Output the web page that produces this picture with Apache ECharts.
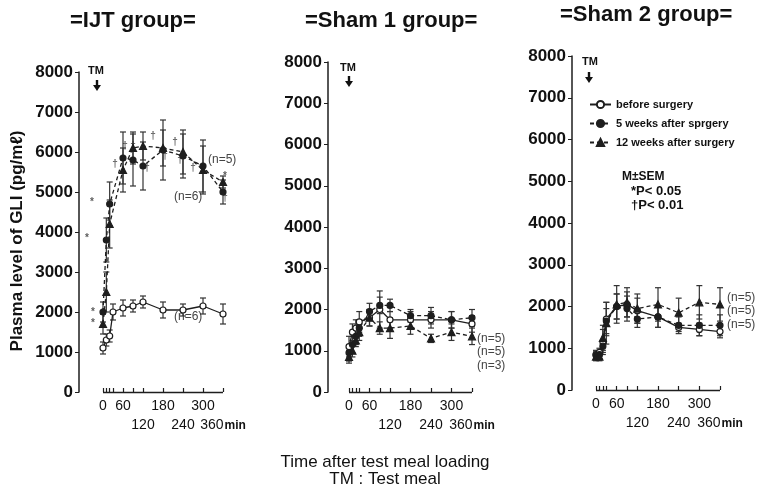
<!DOCTYPE html>
<html>
<head>
<meta charset="utf-8">
<script src="https://cdn.jsdelivr.net/npm/echarts@6/dist/echarts.min.js"></script>
<style>
  html, body { margin: 0; padding: 0; background: #fff; }
  #chart { width: 768px; height: 489px; }
</style>
</head>
<body>
<div id="chart"></div>
<script>
// sampling times (min after test meal)
const times = [0, 10, 20, 30, 60, 90, 120, 180, 240, 300, 360];
const tickTimes = [0, 10, 20, 30, 60, 90, 120, 180, 240, 300, 360];
const labelRow1 = [0, 60, 180, 300];
const labelRow2 = [120, 240, 360];

// IJT group
const ijtBefore    = [1100, 1300, 1400, 2000, 2100, 2150, 2250, 2050, 2050, 2150, 1950];
const ijtBeforeSem = [150, 150, 150, 200, 200, 150, 150, 200, 150, 200, 250];
const ijtWeek5     = [2000, 3800, 4700, null, 5850, 5800, 5650, 6050, 5900, 5650, 5000];
const ijtWeek5Sem  = [250, 550, 550, null, 650, 650, 600, 750, 550, 650, 300];
const ijtWeek12    = [1700, 2500, 4200, null, 5550, 6100, 6150, 6100, 6000, 5550, 5250];
const ijtWeek12Sem = [250, 500, 600, null, 550, 400, 350, 450, 550, 600, 150];

// Sham 1 group
const sham1Before    = [1100, 1450, 1550, 1700, 1800, 2000, 1750, 1750, 1750, 1750, 1650];
const sham1BeforeSem = [250, 200, 200, 250, 200, 450, 200, 200, 200, 200, 200];
const sham1Week5     = [950, 1150, 1350, 1550, 1950, 2100, 2100, 1850, 1850, 1750, 1800];
const sham1Week5Sem  = [200, 200, 200, 200, 200, 200, 150, 150, 200, 200, 200];
const sham1Week12    = [850, 1000, 1250, 1450, 1800, 1550, 1550, 1600, 1300, 1450, 1350];
const sham1Week12Sem = [150, 150, 150, 200, 200, 150, 250, 200, 100, 200, 200];

// Sham 2 group
const sham2Before    = [850, 900, 1150, 1700, 2000, 2050, 1900, 1750, 1500, 1450, 1400];
const sham2BeforeSem = [100, 100, 300, 400, 300, 300, 300, 250, 100, 150, 150];
const sham2Week5     = [830, 850, 1050, 1650, 2000, 1950, 1700, 1750, 1550, 1550, 1550];
const sham2Week5Sem  = [100, 100, 150, 300, 300, 300, 200, 250, 200, 250, 250];
const sham2Week12    = [800, 800, 1250, 1600, 2050, 2100, 1950, 2050, 1850, 2100, 2050];
const sham2Week12Sem = [100, 100, 300, 500, 450, 350, 350, 400, 350, 400, 400];

// significance marks in IJT panel
const sigTimes  = [-33, -48, -30, -30, 36, 66, 90, 132, 150, 186, 216, 231, 270, 366, 366];
const sigValues = [4750, 3850, 2000, 1725, 5700, 6150, 6150, 5600, 6400, 5900, 6250, 5800, 5600, 5400, 4850];
const sigMarks  = ['*', '*', '*', '*', '†', '†', '†', '†', '†', '†', '†', '†', '†', '*', '†'];

const names = ['before surgery', '5 weeks after sprgery', '12 weeks after surgery'];
const ink = '#1e1e1e';

// panel layout: grid starts at the y axis, time axis drawn from 0 to 360 only
const panels = [
  { left: 79, top: 72, height: 320, width: 144, xmin: -72 },
  { left: 328, top: 62, height: 330, width: 144, xmin: -61.5 },
  { left: 572, top: 56, height: 334, width: 148, xmin: -69.7 }
];

const grids = panels.map(p => ({ left: p.left, top: p.top, width: p.width, height: p.height }));

const sans = 'Liberation Sans, Arial, sans-serif';

// two x axes per panel: the main one (ticks + first label row) and a second label row
const xAxes = [];
panels.forEach((p, i) => {
  xAxes.push({
    type: 'value', gridIndex: i, min: p.xmin, max: 360, position: 'bottom',
    axisLine: { show: false },
    axisTick: { show: true, inside: true, length: 4, customValues: tickTimes, lineStyle: { color: ink, width: 1.2 } },
    axisLabel: { customValues: labelRow1, margin: 7, color: '#111', fontFamily: sans, fontSize: 14, showMinLabel: true },
    splitLine: { show: false }
  });
  xAxes.push({
    type: 'value', gridIndex: i, min: p.xmin, max: 360, position: 'bottom', offset: 0,
    axisLine: { show: false }, axisTick: { show: false },
    axisLabel: {
      customValues: labelRow2, margin: 26, color: '#111', fontFamily: sans, fontSize: 14,
      showMaxLabel: true, hideOverlap: false,
      formatter: v => v === 360 ? '360{m|min}' : '' + v,
      rich: { m: { fontSize: 12, fontFamily: sans, fontWeight: 'bold', padding: [2, 0, 0, 1] } }
    },
    splitLine: { show: false }
  });
});

const yAxes = panels.map((p, i) => ({
  type: 'value', gridIndex: i, min: 0, max: 8000, interval: 1000,
  axisLine: { show: true, onZero: false, lineStyle: { color: ink, width: 1.5 } },
  axisTick: { show: true, length: 4, lineStyle: { color: ink } },
  axisLabel: {
    margin: 6, color: '#111', fontWeight: 'bold', fontSize: 17, fontFamily: sans,
    formatter: v => '' + v
  },
  splitLine: { show: false }
}));

function lineSeries(idx, kind, vals) {
  const styles = [
    { symbol: 'circle', size: 6, fill: '#fff', type: 'solid' },
    { symbol: 'circle', size: 6, fill: ink, type: [4, 3] },
    { symbol: 'triangle', size: 7, fill: ink, type: [4, 3] }
  ][kind];
  const s = {
    name: names[kind], type: 'line', xAxisIndex: idx * 2, yAxisIndex: idx,
    data: times.map((t, i) => [t, vals[i]]),
    connectNulls: true, symbol: styles.symbol, symbolSize: styles.size, showAllSymbol: true,
    lineStyle: { color: ink, width: 1.3, type: styles.type },
    itemStyle: { color: styles.fill, borderColor: ink, borderWidth: 1.2 },
    z: 3
  };
  if (kind === 0) {
    // time axis baseline, 0 to 360 min
    s.markLine = {
      silent: true, symbol: ['none', 'none'], label: { show: false },
      lineStyle: { color: ink, width: 1.4, type: 'solid' },
      data: [[{ coord: [0, 0] }, { coord: [360, 0] }]]
    };
  }
  return s;
}

function errSeries(idx, vals, sems) {
  const data = [];
  times.forEach((t, i) => { if (vals[i] != null) data.push([t, vals[i], sems[i]]); });
  return {
    type: 'custom', xAxisIndex: idx * 2, yAxisIndex: idx, data: data, z: 2,
    encode: { x: 0, y: 1 },
    renderItem: function (params, api) {
      const x = api.value(0), y = api.value(1), e = api.value(2);
      const top = api.coord([x, y + e]);
      const bot = api.coord([x, y - e]);
      const st = { stroke: '#333', lineWidth: 1.2 };
      return {
        type: 'group', children: [
          { type: 'line', shape: { x1: top[0], y1: top[1], x2: bot[0], y2: bot[1] }, style: st },
          { type: 'line', shape: { x1: top[0] - 3, y1: top[1], x2: top[0] + 3, y2: top[1] }, style: st },
          { type: 'line', shape: { x1: bot[0] - 3, y1: bot[1], x2: bot[0] + 3, y2: bot[1] }, style: st }
        ]
      };
    }
  };
}

const groups = [
  [ijtBefore, ijtBeforeSem, ijtWeek5, ijtWeek5Sem, ijtWeek12, ijtWeek12Sem],
  [sham1Before, sham1BeforeSem, sham1Week5, sham1Week5Sem, sham1Week12, sham1Week12Sem],
  [sham2Before, sham2BeforeSem, sham2Week5, sham2Week5Sem, sham2Week12, sham2Week12Sem]
];

const series = [];
groups.forEach((g, i) => {
  for (let k = 0; k < 3; k++) {
    series.push(errSeries(i, g[k * 2], g[k * 2 + 1]));
    series.push(lineSeries(i, k, g[k * 2]));
  }
});

series.push({
  type: 'scatter', xAxisIndex: 0, yAxisIndex: 0, symbolSize: 0, clip: false, silent: true,
  data: sigTimes.map((t, i) => ({ value: [t, sigValues[i]], name: sigMarks[i] })),
  label: { show: true, position: 'inside', formatter: '{b}', color: '#333', fontSize: 10, fontWeight: 'bold' }
});

function txt(x, y, text, font, extra) {
  return { type: 'text', x: x, y: y, style: Object.assign({ text: text, font: font, fill: '#111', textVerticalAlign: 'middle' }, extra || {}) };
}
function arrow(x, y) {
  return {
    type: 'group', children: [
      { type: 'rect', shape: { x: x - 1.2, y: y, width: 2.4, height: 6 }, style: { fill: '#111' } },
      { type: 'polygon', shape: { points: [[x - 4, y + 5], [x + 4, y + 5], [x, y + 11]] }, style: { fill: '#111' } }
    ]
  };
}

const nFont = '12px Liberation Sans, sans-serif';
const titleFont = 'bold 22px Liberation Sans, Arial, sans-serif';
const graphics = [
  txt(70, 21, '=IJT group=', titleFont),
  txt(305, 21, '=Sham 1 group=', titleFont),
  txt(560, 15, '=Sham 2 group=', titleFont),
  { type: 'text', x: 17, y: 241, rotation: Math.PI / 2,
    style: { text: 'Plasma level of GLI (pg/mℓ)', font: 'bold 17px Liberation Sans, Arial, sans-serif', fill: '#111', textAlign: 'center', textVerticalAlign: 'middle' } },
  txt(88, 71, 'TM', 'bold 11px Liberation Sans, sans-serif'),
  arrow(97, 80),
  txt(340, 68, 'TM', 'bold 11px Liberation Sans, sans-serif'),
  arrow(349, 76),
  txt(582, 62, 'TM', 'bold 11px Liberation Sans, sans-serif'),
  arrow(589, 72),
  txt(208, 160, '(n=5)', nFont, { fill: '#444' }),
  txt(174, 197, '(n=6)', nFont, { fill: '#444' }),
  txt(174, 317, '(n=6)', nFont, { fill: '#444' }),
  txt(477, 339, '(n=5)', nFont, { fill: '#444' }),
  txt(477, 352, '(n=5)', nFont, { fill: '#444' }),
  txt(477, 366, '(n=3)', nFont, { fill: '#444' }),
  txt(727, 298, '(n=5)', nFont, { fill: '#444' }),
  txt(727, 311, '(n=5)', nFont, { fill: '#444' }),
  txt(727, 325, '(n=5)', nFont, { fill: '#444' }),
  txt(622, 177, 'M±SEM', 'bold 12px Liberation Sans, sans-serif'),
  txt(631, 191, '*P< 0.05', 'bold 13px Liberation Sans, sans-serif'),
  txt(631, 205, '†P< 0.01', 'bold 13px Liberation Sans, sans-serif'),
  txt(385, 462, 'Time after test meal loading', '17px ' + sans, { textAlign: 'center' }),
  txt(385, 479, 'TM : Test meal', '17px ' + sans, { textAlign: 'center' })
];

const chart = echarts.init(document.getElementById('chart'), null, { renderer: 'canvas' });
chart.setOption({
  animation: false,
  backgroundColor: '#fff',
  legend: {
    data: names, orient: 'vertical', left: 584, top: 94, itemGap: 8,
    itemWidth: 21, itemHeight: 9,
    textStyle: { fontWeight: 'bold', fontSize: 11, color: '#111', fontFamily: 'Liberation Sans, sans-serif' }
  },
  grid: grids,
  xAxis: xAxes,
  yAxis: yAxes,
  series: series,
  graphic: graphics
});
</script>
</body>
</html>
